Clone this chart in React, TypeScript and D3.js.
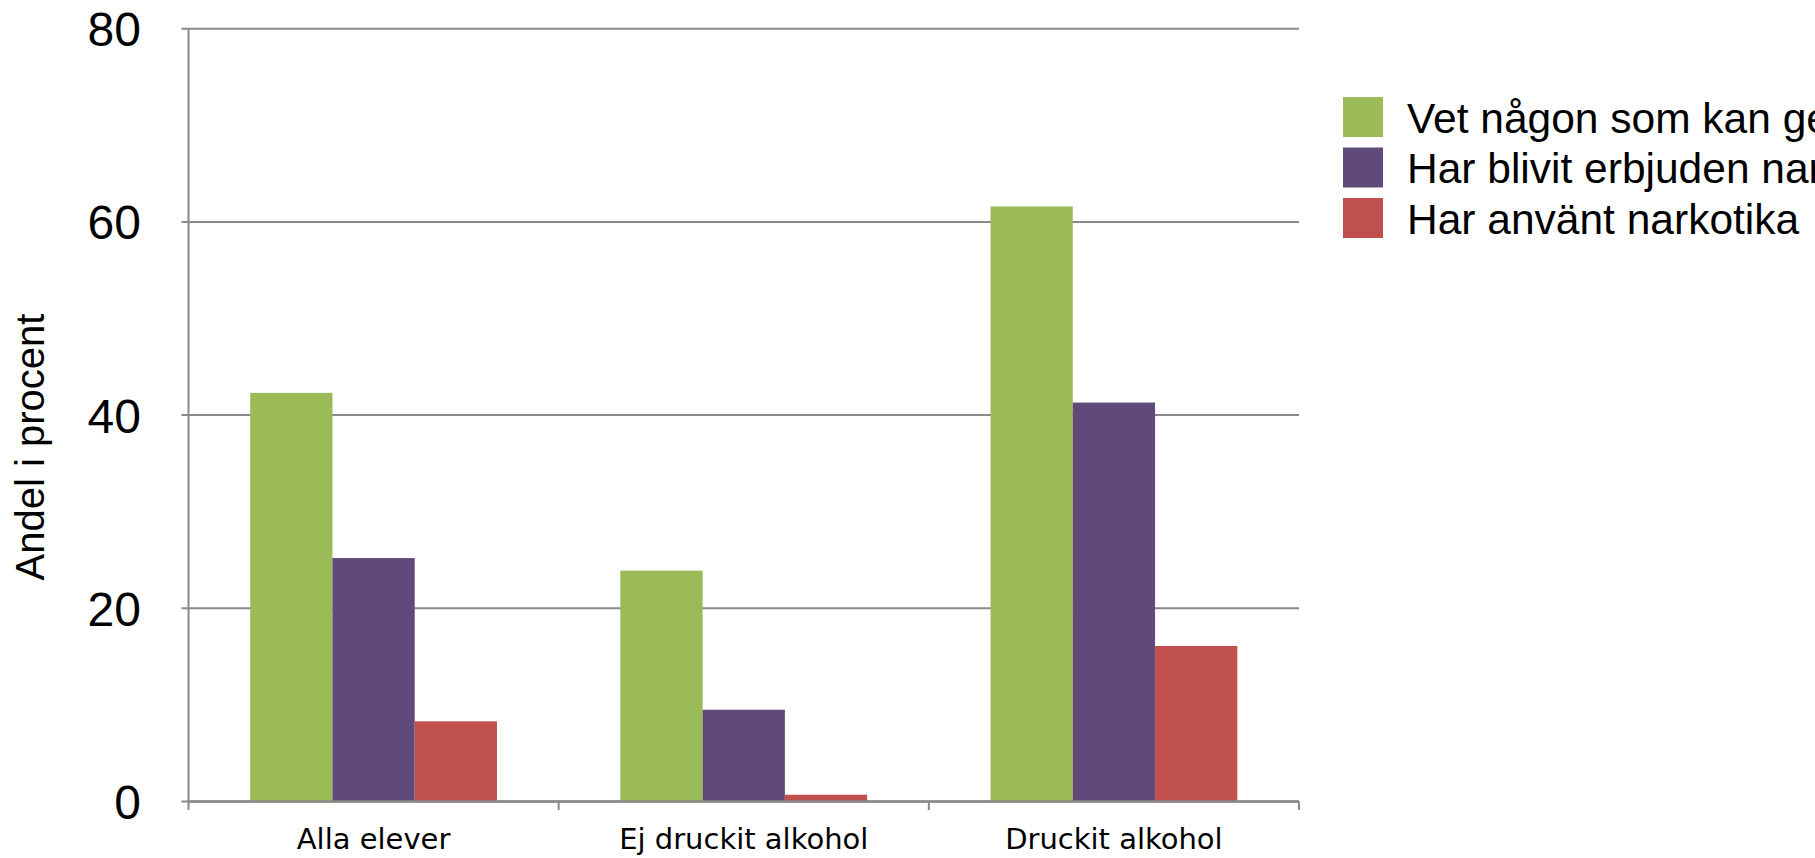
import React from "react";
import * as d3 from "d3";

const categories = ["Alla elever", "Ej druckit alkohol", "Druckit alkohol"];
const seriesNames = [
  "Vet någon som kan ge tillgång till narkotika",
  "Har blivit erbjuden narkotika",
  "Har använt narkotika",
];
const seriesColors = ["#9BBB59", "#604A7B", "#C0504D"];
const vetNagon = [42.3, 23.9, 61.6];
const erbjuden = [25.2, 9.5, 41.3];
const anvant = [8.3, 0.7, 16.1];
const yTicks = [0, 20, 40, 60, 80];
const yTitle = "Andel i procent";

const W = 1815;
const H = 858;
const left = 188.5;
const right = 1299;
const top = 28.7;
const bottom = 801.5;

export default function App() {
  const series = [vetNagon, erbjuden, anvant];
  const x = d3.scaleBand<string>().domain(categories).range([left, right]).paddingInner(0).paddingOuter(0);
  const band = x.bandwidth();
  const barW = band / 4.5;
  const y = d3.scaleLinear().domain([0, 80]).range([bottom, top]);
  const grid = "#898989";
  const font = "'Liberation Sans', Arial, sans-serif";

  return (
    <svg
      width={W}
      height={H}
      style={{ position: "absolute", left: 0, top: 0, background: "#fff" }}
    >
      {/* gridlines */}
      {yTicks.map((t) => (
        <line key={"g" + t} x1={181.5} x2={right} y1={y(t)} y2={y(t)} stroke={grid} strokeWidth={2} />
      ))}
      {/* bars */}
      {categories.map((c, ci) =>
        series.map((s, si) => (
          <rect
            key={c + si}
            x={(x(c) as number) + barW * 0.75 + si * barW}
            y={y(s[ci])}
            width={barW}
            height={bottom - y(s[ci])}
            fill={seriesColors[si]}
          />
        ))
      )}
      {/* y axis */}
      <line x1={left} x2={left} y1={top} y2={bottom + 1} stroke={grid} strokeWidth={2} />
      {/* x axis */}
      <line x1={left} x2={right} y1={bottom} y2={bottom} stroke={grid} strokeWidth={2.5} />
      {[...categories.map((c) => x(c) as number), right].map((tx, i) => (
        <line key={"xt" + i} x1={tx} x2={tx} y1={bottom} y2={bottom + 8.5} stroke={grid} strokeWidth={2} />
      ))}
      {/* y tick labels */}
      {yTicks.map((t) => (
        <text
          key={"yl" + t}
          x={141}
          y={y(t) + 17.5}
          textAnchor="end"
          fontFamily={font}
          fontSize={48}
          fill="#000"
        >
          {t}
        </text>
      ))}
      {/* y title */}
      <text
        transform={`translate(44, 447) rotate(-90)`}
        textAnchor="middle"
        fontFamily={font}
        fontSize={40}
        fill="#000"
      >
        {yTitle}
      </text>
      {/* category labels */}
      {categories.map((c) => (
        <text
          key={"cl" + c}
          x={(x(c) as number) + band / 2}
          y={849}
          textAnchor="middle"
          fontFamily="'DejaVu Sans', sans-serif"
          fontSize={29}
          fill="#000"
        >
          {c}
        </text>
      ))}
      {/* legend */}
      {seriesNames.map((n, i) => (
        <g key={"lg" + i} transform={`translate(1343, ${97 + i * 50.5})`}>
          <rect x={0} y={0} width={40} height={40} fill={seriesColors[i]} />
          <text x={64} y={35.7} fontFamily={font} fontSize={42.5} fill="#000">
            {n}
          </text>
        </g>
      ))}
    </svg>
  );
}
